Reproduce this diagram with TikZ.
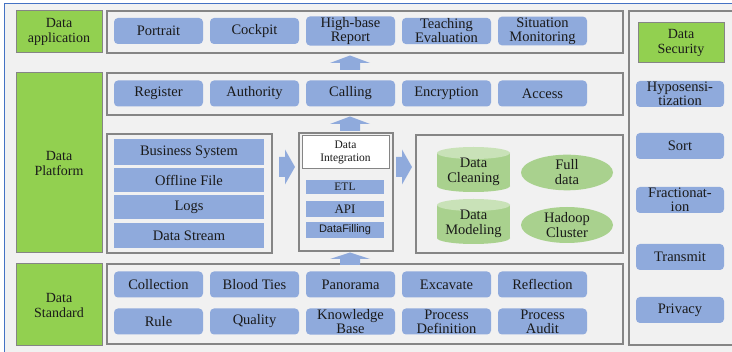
\documentclass[tikz,border=0pt]{standalone}
\usepackage{fontspec}
\setmainfont{Liberation Serif}
\newfontfamily\sansf{Liberation Sans}
\definecolor{bg}{HTML}{F1F1F1}
\definecolor{itemblue}{HTML}{8FAADC}
\definecolor{labgreen}{HTML}{92D050}
\definecolor{bordgray}{HTML}{858585}
\definecolor{cylbody}{HTML}{A9D18E}
\definecolor{cyltop}{HTML}{C9E2B8}
\definecolor{frameblue}{HTML}{4472C4}
\definecolor{txt}{HTML}{1A1A1A}
\tikzset{
  cont/.style={draw=bordgray, line width=1.2pt, fill=bg, inner sep=0pt},
  lab/.style={draw=bordgray, line width=1pt, fill=labgreen, align=center, inner sep=1pt,
    minimum width=86pt, text=txt, font=\fontsize{14}{15}\selectfont},
  item/.style={rounded corners=4pt, fill=itemblue, align=center, inner sep=1pt,
    minimum width=89pt, minimum height=26pt, text=txt, font=\fontsize{14.5}{14}\selectfont},
  srcitem/.style={fill=itemblue, align=center, inner sep=1pt,
    minimum width=150pt, text=txt, font=\fontsize{14.5}{14}\selectfont},
  intitem/.style={fill=itemblue, align=center, inner sep=0pt,
    minimum width=78pt, text=txt},
  sideitem/.style={item, minimum width=88pt},
  blockarrow/.style={fill=itemblue},
  elli/.style={ellipse, fill=cylbody, minimum width=92pt, align=center, inner sep=0pt,
    text=txt, font=\fontsize{14.5}{15}\selectfont},
  cyltext/.style={align=center, inner sep=0pt, text=txt, font=\fontsize{14.5}{15}\selectfont}
}
\usetikzlibrary{shapes.geometric}
\begin{document}
\begin{tikzpicture}[x=1pt,y=-1pt]
\useasboundingbox (0,0) rectangle (732,352);
\fill[white] (0,0) rectangle (732,352);
\fill[bg] (4,3) rectangle (732,352);
\draw[frameblue, line width=0.8pt] (4,352) -- (4,3) -- (732,3);

% ---------- left labels ----------
\node[lab, minimum height=42pt] (lapp) at (59,32) {Data\\application};
\node[lab, minimum height=180pt] (lplat) at (59,163) {Data\\Platform};
\node[lab, minimum height=82pt] (lstd) at (59,305) {Data\\Standard};

% ---------- containers ----------
\node[cont, minimum width=516pt, minimum height=42pt] (capp) at (365,32) {};
\node[cont, minimum width=516pt, minimum height=42pt] (ccall) at (365,94) {};
\node[cont, minimum width=165pt, minimum height=119pt] (csrc) at (189.5,193.5) {};
\node[cont, minimum width=94pt, minimum height=118pt] (cint) at (346,192) {};
\node[cont, minimum width=207pt, minimum height=118pt] (cstore) at (519.5,194) {};
\node[cont, minimum width=516pt, minimum height=80pt] (cstd) at (365,304) {};
\node[cont, minimum width=116pt, minimum height=334pt] (csec) at (687,178) {};

% ---------- application row ----------
\node[item] (portrait) at (158.5,31) {Portrait};
\node[item] (cockpit) at (254.5,31) {Cockpit};
\node[item] (highbase) at (350.5,31) {High-base\\Report};
\node[item] (teaching) at (446.5,31) {Teaching\\Evaluation};
\node[item] (situation) at (542.5,31) {Situation\\Monitoring};

% ---------- calling row ----------
\node[item] (register) at (158.5,93.5) {Register};
\node[item] (authority) at (254.5,93.5) {Authority};
\node[item] (calling) at (350.5,93.5) {Calling};
\node[item] (encryption) at (446.5,93.5) {Encryption};
\node[item] (access) at (542.5,93.5) {Access};

% ---------- sources ----------
\node[srcitem, minimum height=26pt] (business) at (189,152) {Business System};
\node[srcitem, minimum height=24pt] (offline) at (189,180.5) {Offline File};
\node[srcitem, minimum height=24pt] (logs) at (189,207.5) {Logs};
\node[srcitem, minimum height=25pt] (stream) at (189,235.5) {Data Stream};

% ---------- integration ----------
\node[draw=bordgray, line width=1pt, fill=white, minimum width=87pt, minimum height=33pt,
  align=center, inner sep=0pt, text=txt, font=\fontsize{11.5}{13}\selectfont] (dint) at (345.5,152.5) {Data\\Integration};
\node[intitem, minimum height=14pt, font=\fontsize{11.5}{12}\selectfont] (etl) at (345,187) {ETL};
\node[intitem, minimum height=16pt, font=\fontsize{13}{14}\selectfont] (api) at (345,209) {API};
\node[intitem, minimum height=16pt, font=\sansf\fontsize{11}{12}\selectfont] (filling) at (345,230) {DataFilling};

% ---------- storage ----------
\fill[cylbody] (437,153) rectangle (510,186);
\fill[cylbody] (473.5,186) ellipse [x radius=36.5, y radius=6];
\fill[cyltop] (473.5,153) ellipse [x radius=36.5, y radius=6];
\node[cyltext] (cleaning) at (473.5,172) {Data\\Cleaning};
\fill[cylbody] (437,205) rectangle (510,238);
\fill[cylbody] (473.5,238) ellipse [x radius=36.5, y radius=6];
\fill[cyltop] (473.5,205) ellipse [x radius=36.5, y radius=6];
\node[cyltext] (modeling) at (473.5,224) {Data\\Modeling};
\node[elli, minimum height=35pt] (full) at (567,172.5) {Full\\data};
\node[elli, minimum height=36pt] (hadoop) at (567,225) {Hadoop\\Cluster};

% ---------- standard rows ----------
\node[item] (collection) at (158.5,284.5) {Collection};
\node[item] (blood) at (254.5,284.5) {Blood Ties};
\node[item] (panorama) at (350.5,284.5) {Panorama};
\node[item] (excavate) at (446.5,284.5) {Excavate};
\node[item] (reflection) at (542.5,284.5) {Reflection};
\node[item] (rule) at (158.5,321.5) {Rule};
\node[item] (quality) at (254.5,321.5) {Quality};
\node[item] (knowledge) at (350.5,321.5) {Knowledge\\Base};
\node[item] (procdef) at (446.5,321.5) {Process\\Definition};
\node[item] (procaudit) at (542.5,321.5) {Process\\Audit};

% ---------- security ----------
\node[lab, minimum height=40pt] (lsec) at (681,43) {Data\\Security};
\node[sideitem] (hypo) at (680,94) {Hyposensi-\\tization};
\node[sideitem] (sort) at (680,146) {Sort};
\node[sideitem] (fraction) at (680,200) {Fractionat-\\ion};
\node[sideitem] (transmit) at (680,257) {Transmit};
\node[sideitem] (privacy) at (680,310) {Privacy};

% ---------- block arrows ----------
\fill[blockarrow] (340,70) -- (340,63) -- (330,63) -- (350,55.5) -- (370,63) -- (360,63) -- (360,70) -- cycle;
\fill[blockarrow] (340,131) -- (340,124) -- (330,124) -- (350,116.5) -- (370,124) -- (360,124) -- (360,131) -- cycle;
\fill[blockarrow] (340,265) -- (340,259) -- (330,259) -- (350,252.5) -- (370,259) -- (360,259) -- (360,265) -- cycle;
\fill[blockarrow] (279,157) -- (285,157) -- (285,149.5) -- (295,167) -- (285,184.5) -- (285,177) -- (279,177) -- cycle;
\fill[blockarrow] (396,157) -- (402,157) -- (402,149.5) -- (412,167) -- (402,184.5) -- (402,177) -- (396,177) -- cycle;
\end{tikzpicture}
\end{document}
